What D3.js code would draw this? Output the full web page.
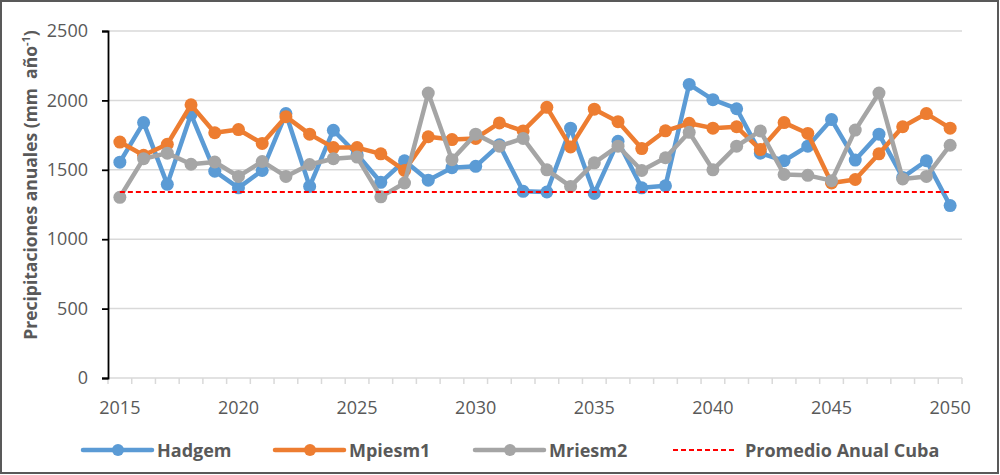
<!DOCTYPE html>
<html>
<head>
<meta charset="utf-8">
<script src="https://cdn.jsdelivr.net/npm/d3@7"></script>
<style>
  html, body { margin: 0; padding: 0; background: #fff; }
  svg { display: block; }
  text { font-family: "Open Sans", "Noto Sans", sans-serif; }
</style>
</head>
<body>
<svg id="chart" width="1000" height="475"></svg>
<script>
const years = d3.range(2015, 2051);
const hadgem = [1555, 1840, 1395, 1900, 1490, 1370, 1495, 1905, 1380, 1785, 1610, 1410,
  1565, 1425, 1515, 1525, 1680, 1345, 1340, 1800, 1330, 1705, 1370, 1385,
  2115, 2005, 1940, 1620, 1565, 1670, 1862, 1570, 1757, 1445, 1565, 1242];
const mpiesm1 = [1700, 1605, 1684, 1968, 1767, 1790, 1690, 1883, 1757, 1660, 1660, 1615,
  1495, 1738, 1718, 1726, 1838, 1780, 1950, 1665, 1937, 1847, 1653, 1781,
  1835, 1800, 1810, 1646, 1840, 1762, 1405, 1430, 1615, 1810, 1905, 1800];
const mriesm2 = [1302, 1580, 1620, 1540, 1556, 1452, 1560, 1452, 1538, 1580, 1592, 1305,
  1405, 2053, 1573, 1757, 1670, 1726, 1500, 1380, 1550, 1670, 1495, 1587,
  1770, 1500, 1670, 1780, 1466, 1460, 1422, 1786, 2053, 1434, 1452, 1677];
const promedio = 1340;
const yTicks = [0, 500, 1000, 1500, 2000, 2500];
const xLabelYears = [2015, 2020, 2025, 2030, 2035, 2040, 2045, 2050];
const seriesNames = ["Hadgem", "Mpiesm1", "Mriesm2", "Promedio Anual Cuba"];
const colors = ["#5B9BD5", "#ED7D31", "#A5A5A5", "#FF0000"];

(function () {
const svg = d3.select("#chart");
const W = 1000, H = 475;
const pL = 108, pR = 962, pT = 31, pB = 378;

// outer border
svg.append("rect").attr("x", 1).attr("y", 1).attr("width", W - 3).attr("height", H - 3)
  .attr("fill", "#fff").attr("stroke", "#595959").attr("stroke-width", 2);

const x = d3.scaleBand().domain(years).range([pL, pR]).padding(0);
const cx = d => x(d) + x.bandwidth() / 2;
const y = d3.scaleLinear().domain([0, 2500]).range([pB, pT]);

// gridlines
svg.append("g").selectAll("line").data(yTicks.filter(d => d > 0)).join("line")
  .attr("x1", pL).attr("x2", pR)
  .attr("y1", d => y(d)).attr("y2", d => y(d))
  .attr("stroke", "#D9D9D9").attr("stroke-width", 1.5);

// x axis line and ticks (category boundaries)
svg.append("line").attr("x1", pL).attr("x2", pR).attr("y1", pB).attr("y2", pB)
  .attr("stroke", "#D9D9D9").attr("stroke-width", 1.5);
const bounds = years.map(d => x(d)).concat([pR]);
svg.append("g").selectAll("line").data(bounds).join("line")
  .attr("x1", d => d).attr("x2", d => d).attr("y1", pB).attr("y2", pB + 6)
  .attr("stroke", "#D9D9D9").attr("stroke-width", 1.5);

// x labels
svg.append("g").selectAll("text").data(xLabelYears).join("text")
  .attr("x", d => cx(d)).attr("y", 414)
  .attr("text-anchor", "middle").attr("font-size", 18).attr("fill", "#595959")
  .text(d => d);

// y axis
const yAxis = d3.axisLeft(y).tickValues(yTicks).tickFormat(d3.format("d"))
  .tickSize(6).tickPadding(14);
const gy = svg.append("g").attr("transform", `translate(${pL},0)`).call(yAxis);
gy.select(".domain").attr("stroke", "#000").attr("stroke-width", 1.8);
gy.selectAll(".tick line").attr("stroke", "#000").attr("stroke-width", 1.8);
gy.selectAll(".tick text").attr("font-size", 18).attr("fill", "#595959")
  .attr("font-family", "'Open Sans', sans-serif");

// y label
const yl = svg.append("text")
  .attr("transform", "translate(37,185) rotate(-90)")
  .attr("text-anchor", "middle").attr("font-size", 17.5).attr("font-weight", "bold")
  .attr("fill", "#595959");
yl.append("tspan").text("Precipitaciones anuales (mm\u00A0\u00A0año");
yl.append("tspan").attr("font-size", 11).attr("dy", -7).text("-1");
yl.append("tspan").attr("dy", 7).text(")");

// series
const data = [hadgem, mpiesm1, mriesm2];
const line = d3.line().x((d, i) => cx(years[i])).y(d => y(d));
data.forEach((vals, k) => {
  const g = svg.append("g");
  g.append("path").attr("d", line(vals)).attr("fill", "none")
    .attr("stroke", colors[k]).attr("stroke-width", 4.5)
    .attr("stroke-linejoin", "round").attr("stroke-linecap", "round");
  g.selectAll("circle").data(vals).join("circle")
    .attr("cx", (d, i) => cx(years[i])).attr("cy", d => y(d)).attr("r", 6.5)
    .attr("fill", colors[k]);
});
// average line
svg.append("line")
  .attr("x1", cx(years[0])).attr("x2", cx(years[years.length - 1]))
  .attr("y1", y(promedio)).attr("y2", y(promedio))
  .attr("stroke", colors[3]).attr("stroke-width", 2).attr("stroke-dasharray", "5,3");

// legend
const legendX = [83, 275, 475, 673];
const lg = svg.append("g");
seriesNames.forEach((name, k) => {
  const x0 = legendX[k], ly = 450;
  if (k < 3) {
    lg.append("line").attr("x1", x0).attr("x2", x0 + 69).attr("y1", ly).attr("y2", ly)
      .attr("stroke", colors[k]).attr("stroke-width", 4.5).attr("stroke-linecap", "round");
    lg.append("circle").attr("cx", x0 + 35).attr("cy", ly).attr("r", 6).attr("fill", colors[k]);
  } else {
    lg.append("line").attr("x1", x0).attr("x2", x0 + 64).attr("y1", ly).attr("y2", ly)
      .attr("stroke", colors[k]).attr("stroke-width", 2).attr("stroke-dasharray", "5,3");
  }
  lg.append("text").attr("x", k < 3 ? x0 + 74 : x0 + 72).attr("y", ly + 6.5)
    .attr("font-size", 18).attr("font-weight", "bold").attr("fill", "#595959")
    .text(name);
});
})();
</script>
</body>
</html>
